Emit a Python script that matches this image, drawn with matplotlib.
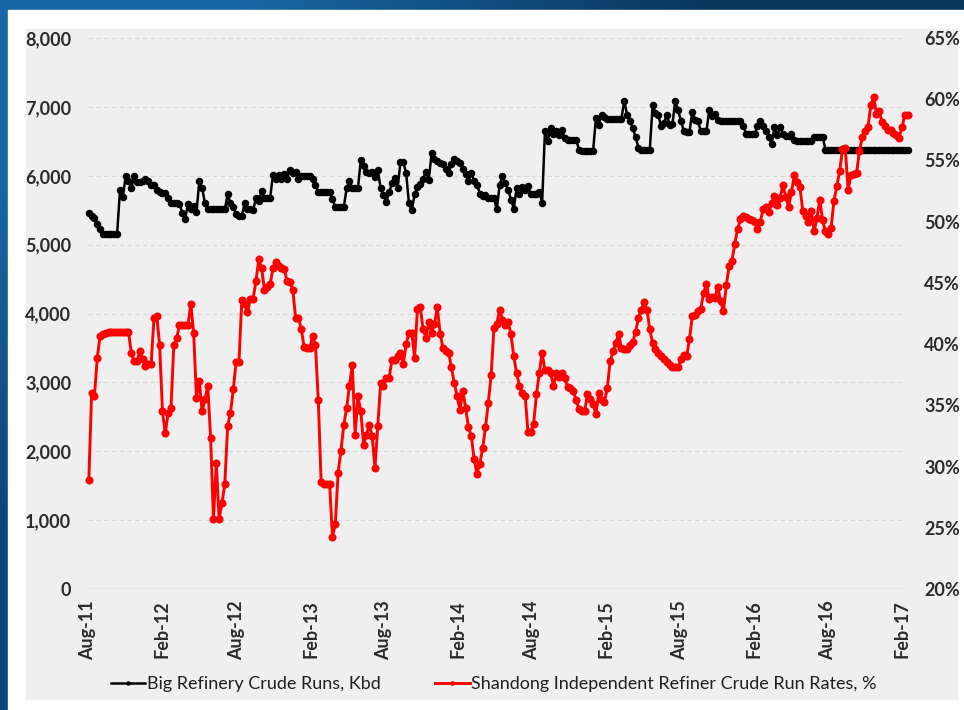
import matplotlib
matplotlib.use("Agg")
import numpy as np
import pandas as pd
import matplotlib.pyplot as plt
from matplotlib.patches import Rectangle

plt.rcParams['font.family'] = ['Lato', 'DejaVu Sans']

# weekly readings, Aug 2011 - Feb 2017
start_date = "2011-08-03"

big_refinery_kbd = [
    # 2011-08 .. 2012-12
    5460, 5420, 5390, 5300, 5220, 5160, 5160, 5160, 5160, 5160,
    5160, 5790, 5690, 5990, 5920, 5815, 6000, 5910, 5910, 5920,
    5960, 5920, 5870, 5870, 5800, 5760, 5750, 5750, 5680, 5610,
    5610, 5610, 5590, 5460, 5370, 5590, 5510, 5560, 5470, 5920,
    5820, 5600, 5510, 5510, 5510, 5510, 5510, 5510, 5510, 5730,
    5600, 5540, 5440, 5410, 5420, 5600, 5510, 5510, 5500, 5680,
    5630, 5780, 5680, 5680, 5680, 6010, 5950, 6010, 5960, 6030,
    5960, 6080,
    # 2013 .. 2014-05
    6040, 6050, 5950, 5990, 5990, 5990, 5990, 5960, 5870, 5770,
    5770, 5770, 5770, 5770, 5660, 5545, 5545, 5545, 5545, 5820,
    5920, 5820, 5820, 5820, 6230, 6140, 6050, 6040, 6056, 5980,
    6090, 5815, 5720, 5620, 5760, 5890, 5970, 5820, 6200, 6200,
    6040, 5600, 5500, 5730, 5830, 5880, 5960, 6050, 5945, 6330,
    6250, 6210, 6190, 6170, 6100, 6040, 6170, 6236, 6210, 6190,
    6100, 6030, 5920, 6040, 5920, 5870, 5740, 5700, 5720, 5670,
    5670, 5670,
    # 2014-05 .. 2015-09
    5510, 5870, 5990, 5890, 5800, 5655, 5524, 5820, 5730, 5830,
    5790, 5849, 5730, 5730, 5730, 5766, 5607, 6656, 6502, 6700,
    6600, 6647, 6589, 6671, 6550, 6526, 6526, 6526, 6526, 6381,
    6366, 6366, 6366, 6366, 6366, 6840, 6744, 6889, 6850, 6831,
    6831, 6831, 6831, 6831, 6831, 7092, 6880, 6802, 6695, 6560,
    6405, 6381, 6381, 6381, 6381, 7024, 6913, 6879, 6720, 6768,
    6879, 6744, 6753, 7092, 6950, 6802, 6647, 6637, 6637, 6928,
    6816, 6792,
    # 2015-09 .. 2017-02
    6647, 6647, 6647, 6960, 6865, 6900, 6816, 6792, 6792, 6792,
    6792, 6790, 6790, 6790, 6790, 6720, 6608, 6608, 6608, 6608,
    6720, 6792, 6720, 6647, 6560, 6463, 6705, 6598, 6705, 6608,
    6574, 6574, 6600, 6526, 6511, 6511, 6511, 6511, 6511, 6511,
    6560, 6560, 6560, 6560, 6380, 6380, 6380, 6380, 6380, 6380,
    6380, 6380, 6380, 6380, 6380, 6380, 6380, 6380, 6380, 6380,
    6380, 6380, 6380, 6380, 6380, 6380, 6380, 6380, 6380, 6380,
    6380, 6380, 6380, 6380,
]

shandong_run_rate = [
    28.9, 36.0, 35.8, 38.9, 40.7, 40.85, 40.9, 41.0, 41.0, 41.0,
    41.0, 41.0, 41.0, 41.0, 41.0, 39.3, 38.6, 38.6, 39.4, 38.75,
    38.2, 38.4, 38.4, 42.1, 42.3, 39.9, 34.5, 32.7, 34.4, 34.75,
    39.9, 40.5, 41.55, 41.55, 41.55, 41.55, 43.3, 40.9, 35.6, 37.0,
    34.5, 35.5, 36.6, 32.3, 25.7, 30.3, 25.7, 27.0, 28.6, 33.3,
    34.4, 36.3, 38.56, 38.56, 43.6, 43.3, 42.6, 43.65, 43.7, 45.15,
    46.96, 46.2, 44.4, 44.7, 44.9, 46.2, 46.7, 46.4, 46.2, 46.1,
    45.15, 45.1,
    44.4, 42.15, 42.15, 41.2, 39.75, 39.7, 39.7, 40.65, 39.9, 35.4,
    28.7, 28.6, 28.6, 28.55, 24.25, 25.3, 29.5, 31.3, 33.4, 34.8,
    36.6, 38.3, 32.6, 35.75, 34.5, 31.8, 32.6, 33.4, 32.5, 29.9,
    33.3, 36.8, 36.6, 37.25, 37.25, 38.7, 38.7, 39.0, 39.3, 38.4,
    40.0, 40.9, 40.9, 38.9, 42.9, 43.0, 41.2, 40.5, 41.8, 40.9,
    41.65, 43.0, 40.85, 39.7, 39.4, 39.3, 38.1, 36.8, 35.75, 34.6,
    36.2, 34.8, 33.2, 32.5, 30.6, 29.4, 30.2, 31.5, 33.2, 35.2,
    37.45, 41.3,
    41.65, 42.8, 42.0, 41.6, 41.8, 40.8, 39.0, 37.6, 36.6, 36.0,
    35.8, 32.8, 32.85, 33.5, 35.9, 37.65, 39.3, 37.85, 37.85, 37.65,
    36.6, 37.6, 37.3, 37.6, 37.2, 36.5, 36.4, 36.2, 35.4, 34.7,
    34.5, 34.5, 35.9, 35.5, 35.1, 34.3, 36.0, 35.4, 35.3, 36.4,
    38.6, 39.4, 40.1, 40.8, 39.7, 39.6, 39.6, 39.9, 40.2, 41.0,
    42.15, 42.75, 43.4, 42.8, 41.2, 40.1, 39.6, 39.3, 39.0, 38.75,
    38.5, 38.3, 38.1, 38.15, 38.1, 38.75, 39.1, 39.0, 40.4, 42.3,
    42.4, 42.7,
    42.9, 44.2, 44.9, 43.65, 43.85, 43.75, 44.7, 43.5, 42.7, 44.8,
    46.4, 46.8, 48.2, 49.4, 50.2, 50.45, 50.4, 50.25, 50.1, 50.0,
    49.4, 50.0, 51.0, 51.2, 50.8, 51.5, 52.1, 51.35, 51.9, 53.0,
    52.0, 51.2, 52.4, 53.8, 53.25, 52.8, 50.9, 50.45, 50.0, 50.9,
    49.2, 50.3, 51.8, 50.1, 49.2, 49.0, 49.5, 51.7, 52.9, 54.1,
    55.9, 56.0, 52.6, 53.8, 53.9, 54.0, 55.8, 56.9, 57.4, 57.7,
    59.5, 60.2, 58.8, 59.0, 58.1, 57.8, 57.5, 57.5, 57.25, 57.1,
    56.85, 57.7, 58.75, 58.75,
]

tick_dates = ["2011-08-01", "2012-02-01", "2012-08-01", "2013-02-01",
              "2013-08-01", "2014-02-01", "2014-08-01", "2015-02-01",
              "2015-08-01", "2016-02-01", "2016-08-01", "2017-02-01"]
tick_labels = ["Aug-11", "Feb-12", "Aug-12", "Feb-13", "Aug-13", "Feb-14",
               "Aug-14", "Feb-15", "Aug-15", "Feb-16", "Aug-16", "Feb-17"]

left_ticks = [0, 1000, 2000, 3000, 4000, 5000, 6000, 7000, 8000]
right_ticks = [20, 25, 30, 35, 40, 45, 50, 55, 60, 65]

dates = pd.date_range(start_date, periods=len(big_refinery_kbd), freq="7D")

W, H = 964, 710
label_col = "#2b2b2b"

fig = plt.figure(figsize=(W / 100, H / 100), dpi=100, facecolor="white")

# slide background: blue gradient frame, white panel, grey chart area
bg = fig.add_axes([0, 0, 1, 1], zorder=-10)
bg.axis("off")
grad = np.array([[[0.10, 0.40, 0.64], [0.03, 0.21, 0.36]],
                 [[0.05, 0.27, 0.46], [0.03, 0.21, 0.36]]])
bg.imshow(grad, extent=[0, 1, 0, 1], aspect="auto", interpolation="bilinear")
bg.add_patch(Rectangle((8 / W, 0), 1, 700 / H, color="white"))
bg.add_patch(Rectangle((26 / W, 11 / H), 931 / W, 670 / H, color="#efefef"))
bg.set_xlim(0, 1)
bg.set_ylim(0, 1)

ax = fig.add_axes([88 / W, 121 / H, 818 / W, 551 / H])
ax.set_facecolor("none")
ax2 = ax.twinx()

ax.plot(dates, big_refinery_kbd, color="black", lw=1.8, marker="o", ms=4.4,
        clip_on=False, label="Big Refinery Crude Runs, Kbd")
ax2.plot(dates, shandong_run_rate, color="#ff0000", lw=2.1, marker="o", ms=4.8,
         clip_on=False, label="Shandong Independent Refiner Crude Run Rates, %")

ax.set_ylim(0, 8000)
ax.set_yticks(left_ticks)
ax.set_yticklabels([f"{v:,}" for v in left_ticks])
ax2.set_ylim(20, 65)
ax2.set_yticks(right_ticks)
ax2.set_yticklabels([f"{v}%" for v in right_ticks])

ax.set_xlim(pd.Timestamp("2011-08-01"), pd.Timestamp("2017-02-11"))
ax.set_xticks(pd.to_datetime(tick_dates))
ax.set_xticklabels(tick_labels, rotation=90)

ax.yaxis.grid(True, linestyle=(0, (4, 3)), color="#d6d6d6", linewidth=0.8)
ax.set_axisbelow(True)

for a in (ax, ax2):
    for side in ("top", "left", "right", "bottom"):
        a.spines[side].set_visible(False)
ax.axhline(0, color="#d0d0d0", lw=1.0, zorder=0)

ax.tick_params(axis="y", length=0, pad=12, labelsize=13, colors=label_col)
ax.tick_params(axis="x", length=0, pad=8, labelsize=13, colors=label_col)
ax2.tick_params(axis="y", length=0, pad=13, labelsize=13, colors=label_col)
for lab in ax.get_xticklabels() + ax.get_yticklabels() + ax2.get_yticklabels():
    lab.set_fontweight("bold")

h1, l1 = ax.get_legend_handles_labels()
h2, l2 = ax2.get_legend_handles_labels()
leg = fig.legend(h1 + h2, l1 + l2, loc="center", bbox_to_anchor=(494 / W, 26 / H),
                 ncol=2, frameon=False, fontsize=13, handlelength=1.9,
                 handletextpad=0.1, columnspacing=3.0, markerscale=0.5)
for t in leg.get_texts():
    t.set_color("#1f1f1f")

fig.savefig("out.png", dpi=100, facecolor="white")
